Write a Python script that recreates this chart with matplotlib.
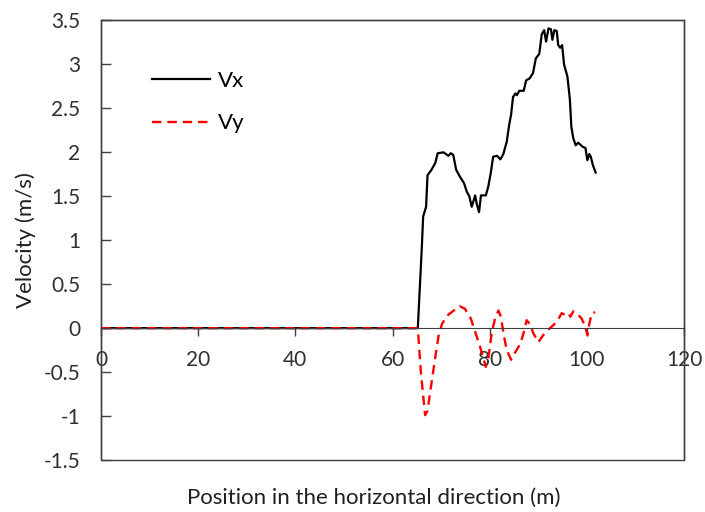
import matplotlib.pyplot as plt
from matplotlib.patches import Rectangle

# Vx along the horizontal position
x_vx = [0, 65.2, 66.0, 66.3, 66.9, 67.2, 68.0, 68.8, 69.3, 70.5, 71.5, 72.0, 72.5, 73.1,
        73.9, 74.7, 75.3, 75.8, 76.3, 77.0, 77.3, 77.8, 78.2, 79.2, 79.7, 80.2, 80.7,
        81.5, 82.2, 82.8, 83.5, 84.0, 84.4, 84.8, 85.3, 85.6, 86.1, 87.0, 87.5, 88.2,
        88.9, 89.5, 90.2, 90.7, 91.2, 91.6, 92.1, 92.6, 92.9, 93.3, 93.8, 94.1, 94.5,
        94.9, 95.3, 96.0, 96.5, 96.8, 97.2, 97.7, 98.2, 99.2, 99.7, 100.1, 100.5, 100.8,
        101.2, 101.8]
vx = [0, 0, 0.89, 1.27, 1.38, 1.74, 1.80, 1.88, 1.99, 2.0, 1.96, 1.99, 1.97, 1.80,
      1.72, 1.65, 1.55, 1.50, 1.38, 1.51, 1.42, 1.32, 1.51, 1.51, 1.61, 1.76, 1.95,
      1.96, 1.92, 1.98, 2.12, 2.31, 2.43, 2.63, 2.67, 2.65, 2.70, 2.70, 2.82, 2.84,
      2.90, 3.07, 3.12, 3.34, 3.39, 3.26, 3.41, 3.40, 3.28, 3.39, 3.38, 3.22, 3.19,
      3.22, 3.0, 2.86, 2.60, 2.29, 2.16, 2.08, 2.11, 2.06, 2.05, 1.91, 1.98, 1.95,
      1.86, 1.77]

# Vy along the horizontal position
x_vy = [0, 65.0, 65.3, 65.8, 66.2, 66.7, 67.2, 68.0, 68.8, 69.5, 70.2, 71.2, 72.6, 73.8,
        74.9, 76.1, 77.0, 78.0, 79.2, 79.7, 80.4, 81.1, 81.8, 82.3, 82.9, 83.5, 84.4,
        85.3, 86.3, 87.1, 87.6, 88.2, 89.0, 90.0, 91.0, 92.4, 93.8, 94.8, 95.5, 96.2,
        96.6, 97.2, 97.9, 98.9, 99.7, 100.1, 100.5, 101.0, 101.7]
vy = [0, 0, -0.08, -0.48, -0.71, -0.99, -0.94, -0.63, -0.33, -0.08, 0.05, 0.14, 0.20,
      0.25, 0.22, 0.11, -0.04, -0.21, -0.44, -0.35, -0.06, 0.11, 0.20, 0.13, -0.08,
      -0.25, -0.36, -0.27, -0.18, -0.03, 0.09, 0.05, -0.06, -0.16, -0.08, 0.0, 0.07,
      0.17, 0.15, 0.17, 0.13, 0.19, 0.17, 0.11, 0.01, -0.08, 0.05, 0.17, 0.18]

x_ticks = [0, 20, 40, 60, 80, 100, 120]
y_ticks = [-1.5, -1, -0.5, 0, 0.5, 1, 1.5, 2, 2.5, 3, 3.5]
y_labels = ["-1.5", "-1", "-0.5", "0", "0.5", "1", "1.5", "2", "2.5", "3", "3.5"]

plt.rcParams['font.family'] = ['Lato', 'DejaVu Sans']
fs = 16
tfs = 15
fig = plt.figure(figsize=(7.05, 5.12), dpi=100)
ax = fig.add_axes([0.1433, 0.1016, 0.827, 0.8584])

ax.plot(x_vx, vx, color='black', lw=1.6, label='Vx')
ax.plot(x_vy, vy, color='red', lw=1.7, dashes=(4, 2.5), label='Vy')

ax.set_xlim(0, 120)
ax.set_ylim(-1.5, 3.5)
ax.set_xticks(x_ticks)
ax.set_yticks(y_ticks)
ax.set_yticklabels(y_labels)

# x axis crosses at zero, keep a full frame around the plot
for s in ['top', 'right', 'left']:
    ax.spines[s].set_color('#404040')
    ax.spines[s].set_linewidth(1)
ax.spines['bottom'].set_position(('data', 0))
ax.spines['bottom'].set_color('#404040')
ax.add_patch(Rectangle((0, 0), 1, 1, transform=ax.transAxes, fill=False,
                       edgecolor='#404040', lw=1, clip_on=False, zorder=0))
ax.tick_params(axis='x', direction='out', length=6, width=1, color='#404040',
               labelsize=tfs, pad=10, labelcolor='#303030')
ax.tick_params(axis='y', direction='in', length=7, width=1, color='#404040',
               labelsize=tfs, pad=15, labelcolor='#303030')

leg = ax.legend(loc='upper left', bbox_to_anchor=(0.053, 0.93), frameon=False,
                fontsize=fs, handlelength=2.6, labelspacing=1.0, handletextpad=0.35)

fig.text(0.037, 0.531, 'Velocity (m/s)', rotation=90, ha='center', va='center',
         fontsize=fs, color='#202020')
fig.text(0.53, 0.027, 'Position in the horizontal direction (m)', ha='center',
         va='center', fontsize=fs, color='#202020')

fig.savefig('out.png', dpi=100)
